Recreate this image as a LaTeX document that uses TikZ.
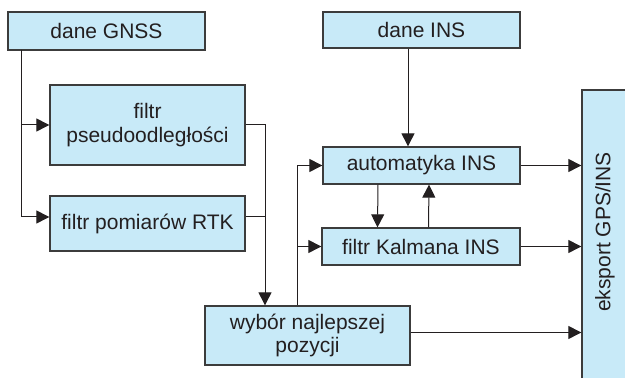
\documentclass[tikz,border=0pt]{standalone}
\usepackage{fontspec}
\setmainfont{Liberation Sans}
\usetikzlibrary{arrows.meta}

\definecolor{boxfill}{HTML}{C8EAF8}
\definecolor{boxline}{HTML}{3C3C3C}
\definecolor{ink}{HTML}{231F20}

\tikzset{
  box/.style={draw=boxline,line width=1.3pt,fill=boxfill,inner sep=0pt,
    text=ink,align=center,font=\fontsize{21}{23.5}\selectfont},
  flow/.style={ink,line width=1pt,-{Triangle[length=13pt,width=13pt]}}
}

\begin{document}
\begin{tikzpicture}[x=1pt,y=1pt]
        \useasboundingbox (0,0) rectangle (625,378);
        \clip (0,0) rectangle (625,378);
        % GNSS side
        \node[box,minimum width=197pt,minimum height=38pt] (gnss) at (106.5,347) {dane GNSS};
        \node[box,minimum width=195pt,minimum height=80pt] (pseudo) at (147.5,253) {filtr\\pseudoodległości};
        \node[box,minimum width=195pt,minimum height=55pt] (rtk) at (147.5,154.5) {filtr pomiarów RTK};
        \node[box,minimum width=205pt,minimum height=59pt] (wybor) at (307.5,42.5) {wybór najlepszej\\pozycji};
        % INS side
        \node[box,minimum width=197pt,minimum height=36pt] (ins) at (421.5,348) {dane INS};
        \node[box,minimum width=197pt,minimum height=37pt] (auto) at (421.5,212.5) {automatyka INS};
        \node[box,minimum width=198pt,minimum height=37pt] (kalman) at (421,131.5) {filtr Kalmana INS};
        \node[box,minimum width=70pt,minimum height=310pt] (eksport) at (617,133) {};
        \node[text=ink,font=\fontsize{21}{23.5}\selectfont,rotate=90] (eksporttxt) at (605,146) {eksport GPS/INS};
        % connectors
        \coordinate (split) at (21,328);
        \coordinate (merge) at (265,0);
        \coordinate (rise) at (297,0);
        \coordinate (rtkout) at ([yshift=6.5pt]rtk.east);
        \draw[flow] (split) |- (pseudo.west);
        \draw[flow] (split) |- ([yshift=6.5pt]rtk.west);
        \draw[flow] (pseudo.east) -| (merge |- wybor.north);
        \draw[ink,line width=1pt] (rtkout) -- (merge |- rtkout);
        \draw[flow] (rise |- wybor.north) |- (auto.west);
        \draw[flow] (rise |- kalman.west) -- (kalman.west);
        \draw[flow] ([xshift=-13.5pt]ins.south) -- ([xshift=-13.5pt]auto.north);
        \draw[flow] ([xshift=-43.5pt]auto.south) -- ([xshift=-43.5pt]kalman.north);
        \draw[flow] ([xshift=7.5pt]kalman.north) -- ([xshift=7.5pt]auto.south);
        \draw[flow] (auto.east) -- (auto.east -| eksport.west);
        \draw[flow] (kalman.east) -- (kalman.east -| eksport.west);
        \draw[flow] ([yshift=3pt]wybor.east) -- ([yshift=3pt]wybor.east -| eksport.west);
\end{tikzpicture}
\end{document}
